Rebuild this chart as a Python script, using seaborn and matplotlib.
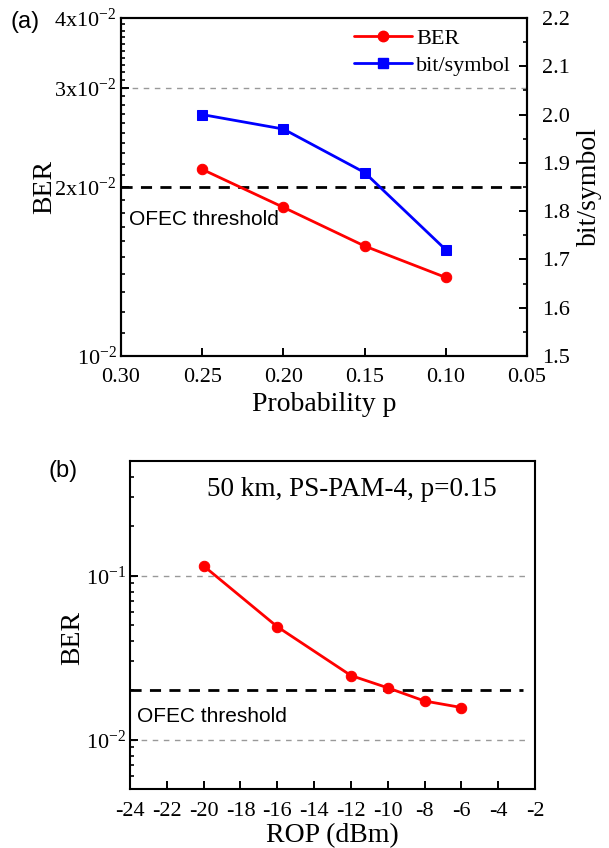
import numpy as np
import pandas as pd
import matplotlib
matplotlib.use("Agg")
import matplotlib.pyplot as plt
import matplotlib.ticker as mticker
from matplotlib.lines import Line2D
import seaborn as sns

# ---------------- data ----------------
prob_p = [0.25, 0.20, 0.15, 0.10]
ber_a = [0.0215, 0.0184, 0.0157, 0.0138]
bits_a = [2.00, 1.97, 1.88, 1.72]

rop = [-20, -16, -12, -10, -8, -6]
ber_b = [0.1146, 0.0488, 0.0246, 0.0207, 0.0172, 0.0157]

threshold = 0.02
a_yticks = [0.01, 0.02, 0.03, 0.04]
a_yticklabels = [r"$10^{-2}$", r"$2x10^{-2}$", r"$3x10^{-2}$", r"$4x10^{-2}$"]
a_xticks = [0.30, 0.25, 0.20, 0.15, 0.10, 0.05]
a_xticklabels = ["0.30", "0.25", "0.20", "0.15", "0.10", "0.05"]
b_xticks = list(range(-24, -1, 2))
b_xticklabels = [str(v) for v in b_xticks]
b_yticks = [0.01, 0.1]
b_yticklabels = [r"$10^{-2}$", r"$10^{-1}$"]

# ---------------- style ----------------
sns.set_style("ticks")
plt.rcParams["font.family"] = ["Liberation Serif", "DejaVu Serif"]
plt.rcParams["mathtext.fontset"] = "custom"
plt.rcParams["mathtext.rm"] = "Liberation Serif"
plt.rcParams["mathtext.it"] = "Liberation Serif"
plt.rcParams["mathtext.default"] = "regular"
plt.rcParams["axes.linewidth"] = 1.5
for k in ["axes.edgecolor", "text.color", "axes.labelcolor",
          "xtick.color", "ytick.color"]:
    plt.rcParams[k] = "black"

W, H = 609, 848
fig = plt.figure(figsize=(W / 100, H / 100), dpi=100)
fig.patch.set_facecolor("white")

def px_axes(l, t, r, b):
    return fig.add_axes([l / W, 1 - b / H, (r - l) / W, (b - t) / H])

TICK_FS = 16
LAB_FS = 20
SANS = ["Liberation Sans", "DejaVu Sans"]
MS = 7.5

def style_ticks(ax):
    ax.tick_params(which="major", direction="in", length=6, width=1.4,
                   labelsize=TICK_FS, pad=5)
    ax.tick_params(which="minor", direction="in", length=3, width=1.2)

# ---------------- panel (a) ----------------
ax = px_axes(121, 18, 527, 356)
dfa = pd.DataFrame({"p": prob_p, "ber": ber_a, "bits": bits_a})
sns.lineplot(data=dfa, x="p", y="ber", ax=ax, color="red", marker="o",
             markersize=MS, markeredgecolor="red", linewidth=2, legend=False)
ax.set_yscale("log")
ax.set_ylim(0.01, 0.04)
ax.set_xlim(0.30, 0.05)
ax.yaxis.set_major_locator(mticker.FixedLocator(a_yticks))
ax.yaxis.set_major_formatter(mticker.FixedFormatter(a_yticklabels))
ax.yaxis.set_minor_locator(mticker.FixedLocator(
    [v / 1000 for v in range(11, 40) if v % 10 != 0]))
ax.yaxis.set_minor_formatter(mticker.NullFormatter())
ax.set_xticks(a_xticks)
ax.set_xticklabels(a_xticklabels)
ax.xaxis.set_minor_locator(mticker.NullLocator())
style_ticks(ax)
ax.tick_params(axis="y", pad=3)
ax.tick_params(axis="x", pad=9)
ax.axhline(0.03, color="#999999", lw=1, ls=(0, (4, 4)), zorder=0)
ax.axhline(threshold, color="black", lw=2, ls=(0, (4, 3)), zorder=1)
ax.set_xlabel("Probability p", fontsize=LAB_FS, labelpad=3)
ax.set_ylabel("BER", fontsize=LAB_FS, labelpad=-2)
ax.text((129 - 121) / 406, (356 - 220) / 338, "OFEC threshold",
        transform=ax.transAxes, fontsize=15, family=SANS, va="center", ha="left")

ax2 = ax.twinx()
sns.lineplot(data=dfa, x="p", y="bits", ax=ax2, color="blue", marker="s",
             markersize=MS, markeredgecolor="blue", linewidth=2, legend=False)
ax2.set_ylim(1.5, 2.2)
ax2.yaxis.set_major_locator(mticker.MultipleLocator(0.1))
ax2.yaxis.set_minor_locator(mticker.MultipleLocator(0.05))
ax2.yaxis.set_major_formatter(mticker.FormatStrFormatter("%.1f"))
style_ticks(ax2)
ax2.tick_params(axis="y", pad=11)
ax2.set_ylabel("bit/symbol", fontsize=LAB_FS, labelpad=5)
ax2.set_xlim(0.30, 0.05)
for a in (ax, ax2):
    for s in a.spines.values():
        s.set_linewidth(1.5)
        s.set_visible(True)

handles = [Line2D([], [], color="red", marker="o", markersize=MS, lw=2),
           Line2D([], [], color="blue", marker="s", markersize=MS, lw=2)]
ax2.legend(handles, ["BER", "bit/symbol"], loc="upper left",
           bbox_to_anchor=((354 - 121) / 406, (356 - 28) / 338),
           frameon=False, fontsize=16, handlelength=2.6, handletextpad=0.2,
           labelspacing=0.3, borderaxespad=0, borderpad=0)

fig.text(25 / W, 1 - 22 / H, "(a)", family=SANS, fontsize=17,
         ha="center", va="center")

# ---------------- panel (b) ----------------
bx = px_axes(130, 461, 535, 789)
dfb = pd.DataFrame({"rop": rop, "ber": ber_b})
sns.lineplot(data=dfb, x="rop", y="ber", ax=bx, color="red", marker="o",
             markersize=MS, markeredgecolor="red", linewidth=2, legend=False)
bx.set_yscale("log")
bx.set_ylim(0.005, 0.5)
bx.set_xlim(-24, -2)
bx.yaxis.set_major_locator(mticker.FixedLocator(b_yticks))
bx.yaxis.set_major_formatter(mticker.FixedFormatter(b_yticklabels))
bx.yaxis.set_minor_locator(mticker.LogLocator(base=10, subs=np.arange(2, 10)))
bx.yaxis.set_minor_formatter(mticker.NullFormatter())
bx.set_xticks(b_xticks)
bx.set_xticklabels(b_xticklabels)
bx.xaxis.set_minor_locator(mticker.NullLocator())
style_ticks(bx)
bx.tick_params(axis="y", pad=3)
bx.tick_params(axis="x", pad=9)
for s in bx.spines.values():
    s.set_linewidth(1.5)
    s.set_visible(True)
bx.axhline(0.1, xmax=0.985, color="#999999", lw=1, ls=(0, (4, 4)), zorder=0)
bx.axhline(0.01, xmax=0.985, color="#999999", lw=1, ls=(0, (4, 4)), zorder=0)
bx.axhline(threshold, xmax=0.97, color="black", lw=2, ls=(0, (4, 3)), zorder=1)
bx.set_xlabel("ROP (dBm)", fontsize=LAB_FS, labelpad=2)
bx.set_ylabel("BER", fontsize=LAB_FS)
bx.yaxis.set_label_coords(-0.11, 0.46)
bx.text((137 - 130) / 405, (789 - 716) / 328, "OFEC threshold",
        transform=bx.transAxes, fontsize=15, family=SANS, va="center", ha="left")
bx.text((207 - 130) / 405, (789 - 490) / 328, "50 km, PS-PAM-4, p=0.15",
        transform=bx.transAxes, fontsize=19.5, va="center", ha="left")

fig.text(63 / W, 1 - 471 / H, "(b)", family=SANS, fontsize=17,
         ha="center", va="center")

fig.savefig("out.png", dpi=100, facecolor="white")
